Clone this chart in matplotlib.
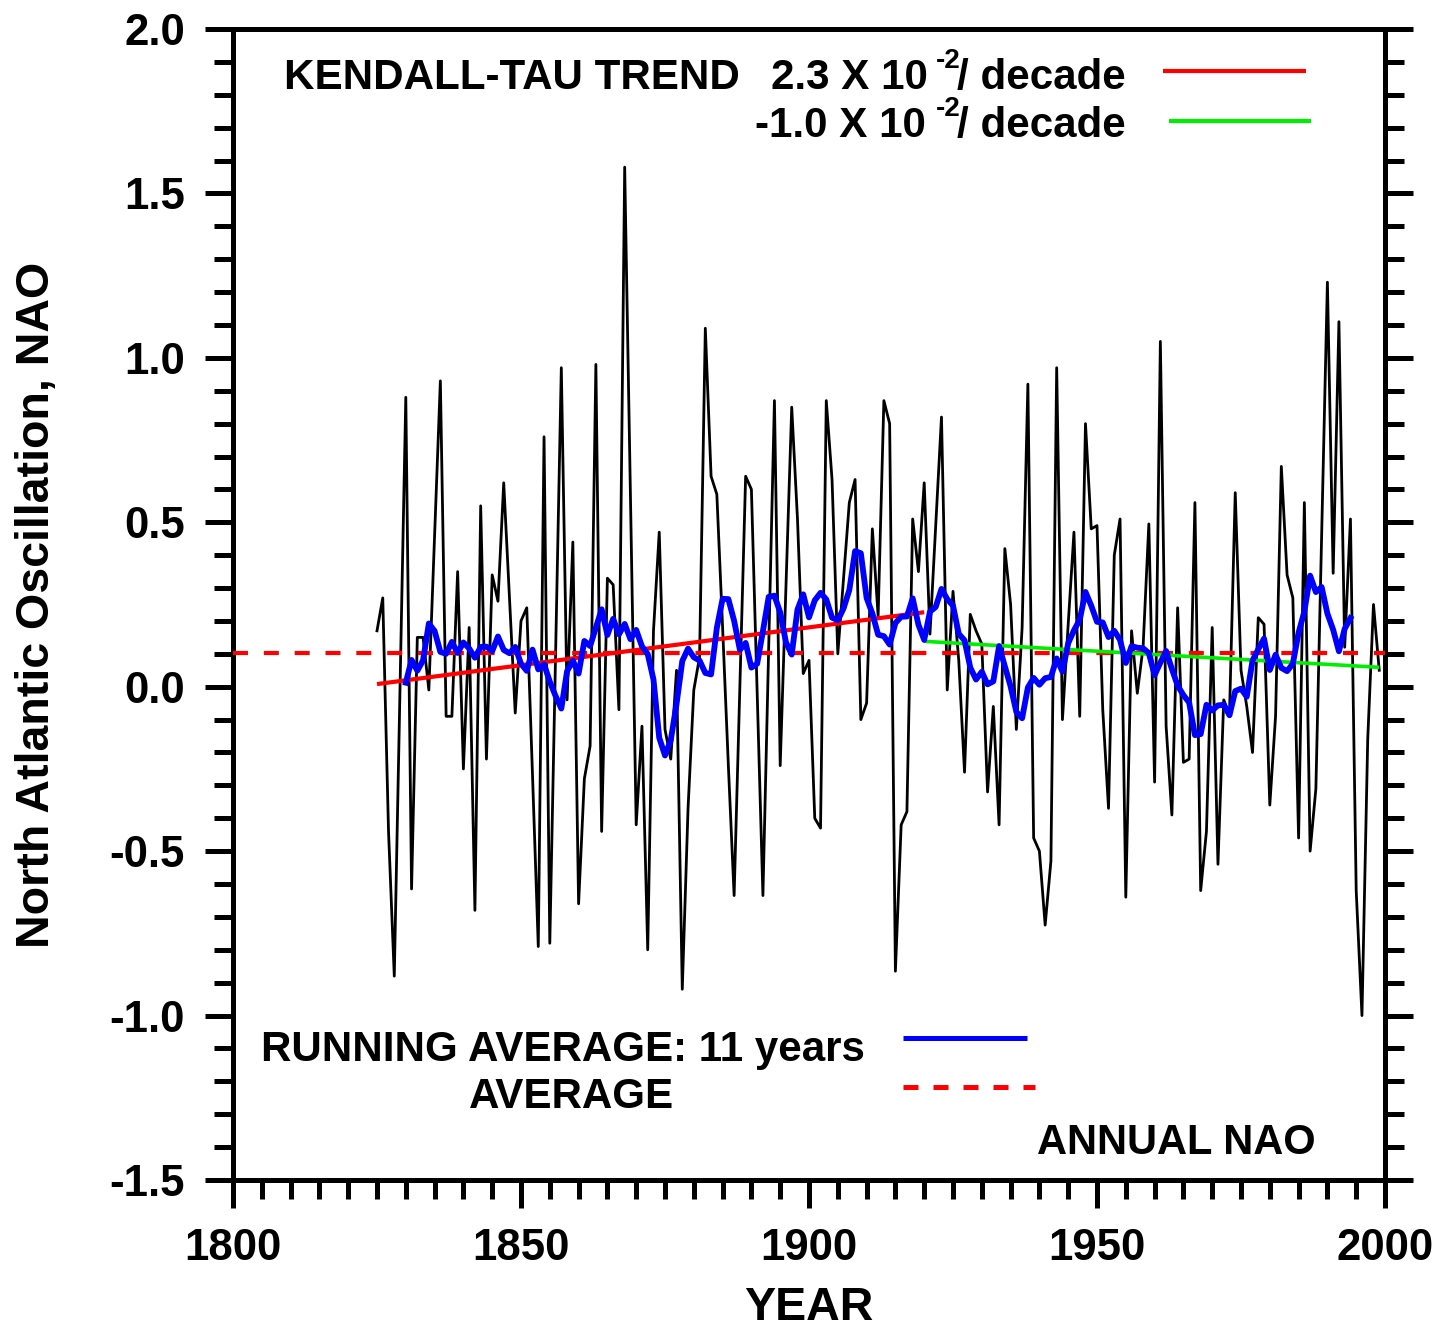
import numpy as np
import matplotlib
matplotlib.use("Agg")
import matplotlib.pyplot as plt
from matplotlib.lines import Line2D
from matplotlib.ticker import MultipleLocator

plt.rcParams["font.family"] = ["Liberation Sans", "DejaVu Sans"]
plt.rcParams["font.weight"] = "bold"

# Annual NAO index, 1825-1999
first_year = 1825
nao = [
    0.17, 0.27, -0.44, -0.88, 0.00, 0.88, -0.615, 0.15, 0.15, -0.01,    # 1825-1834
    0.46, 0.93, -0.09, -0.09, 0.35, -0.25, 0.18, -0.68, 0.55, -0.22,    # 1835-1844
    0.34, 0.26, 0.62, 0.27, -0.08, 0.20, 0.24, -0.27, -0.79, 0.76,      # 1845-1854
    -0.78, 0.10, 0.97, -0.04, 0.44, -0.66, -0.28, -0.18, 0.98, -0.44,   # 1855-1864
    0.33, 0.31, -0.07, 1.58, 0.58, -0.42, -0.12, -0.80, 0.17, 0.47,     # 1865-1874
    -0.13, -0.22, 0.05, -0.92, -0.37, -0.01, 0.09, 1.09, 0.64, 0.585,   # 1875-1884
    0.18, -0.24, -0.635, 0.00, 0.64, 0.60, -0.02, -0.635, 0.12, 0.87,   # 1885-1894
    -0.24, 0.31, 0.85, 0.51, 0.04, 0.08, -0.40, -0.43, 0.87, 0.63,      # 1895-1904
    0.10, 0.33, 0.56, 0.63, -0.10, -0.05, 0.48, 0.215, 0.87, 0.80,      # 1905-1914
    -0.865, -0.42, -0.38, 0.51, 0.35, 0.62, 0.16, 0.49, 0.82, -0.01,    # 1915-1924
    0.29, 0.08, -0.26, 0.22, 0.17, 0.13, -0.32, -0.06, -0.42, 0.42,     # 1925-1934
    0.25, -0.13, 0.18, 0.92, -0.46, -0.50, -0.725, -0.53, 0.97, -0.10,  # 1935-1944
    0.19, 0.47, -0.09, 0.80, 0.48, 0.49, -0.07, -0.37, 0.40, 0.51,      # 1945-1954
    -0.64, 0.17, -0.02, 0.12, 0.495, -0.29, 1.05, -0.12, -0.39, 0.24,   # 1955-1964
    -0.23, -0.22, 0.56, -0.62, -0.44, 0.18, -0.54, -0.04, -0.085, 0.59, # 1965-1974
    0.05, -0.06, -0.20, 0.21, 0.19, -0.36, -0.09, 0.67, 0.34, 0.27,     # 1975-1984
    -0.46, 0.56, -0.50, -0.31, 0.46, 1.23, 0.345, 1.11, 0.12, 0.51,     # 1985-1994
    -0.62, -1.00, -0.16, 0.25, 0.05,                                    # 1995-1999
]
years = np.arange(first_year, first_year + len(nao))

# Long-term average of the index
nao_average = 0.104

# Kendall-tau trends (value at the start year, slope per decade)
trend1_years = [1825, 1920]
trend1_start = 0.008
trend1_slope = 2.3e-2
trend2_years = [1920, 1999]
trend2_start = 0.138
trend2_slope = -1.0e-2

window = 11

y_ticks = [-1.5, -1.0, -0.5, 0.0, 0.5, 1.0, 1.5, 2.0]
y_ticklabels = ["-1.5", "-1.0", "-0.5", "0.0", "0.5", "1.0", "1.5", "2.0"]
x_ticks = [1800, 1850, 1900, 1950, 2000]

W, H = 1441, 1328
fig = plt.figure(figsize=(W / 100, H / 100), dpi=100)
ax = fig.add_axes([233 / W, 1 - 1180 / H, (1385 - 233) / W, (1180 - 29) / H])


def fx(px):
    return px / W


def fy(py):
    return 1 - py / H


nao_arr = np.asarray(nao)
run_mean = np.convolve(nao_arr, np.ones(window) / window, mode="valid")
run_years = years[window // 2: len(years) - window // 2]

t1 = np.array(trend1_years, dtype=float)
v1 = trend1_start + trend1_slope / 10 * (t1 - t1[0])
t2 = np.array(trend2_years, dtype=float)
v2 = trend2_start + trend2_slope / 10 * (t2 - t2[0])

ax.plot(years, nao_arr, color="black", lw=2.0, zorder=3)
ax.axhline(nao_average, color="#ff0000", lw=3.0, dashes=(3.6, 3.8), zorder=4)
ax.plot(t1, v1, color="#ff0000", lw=3.0, zorder=4, solid_capstyle="butt")
ax.plot(t2, v2, color="#00ee00", lw=2.6, zorder=4, solid_capstyle="butt")
ax.plot(run_years, run_mean, color="#0000ff", lw=4.2, zorder=5,
        solid_joinstyle="round")

ax.set_xlim(1800, 2000)
ax.set_ylim(-1.5, 2.0)

for side in ["left", "right", "top", "bottom"]:
    ax.spines[side].set_linewidth(3.6)

ax.set_xticks(x_ticks)
ax.set_xticklabels([str(x) for x in x_ticks])
ax.xaxis.set_minor_locator(MultipleLocator(5))
ax.set_yticks(y_ticks)
ax.set_yticklabels(y_ticklabels)
ax.yaxis.set_minor_locator(MultipleLocator(0.1))

ax.tick_params(axis="both", which="both", direction="out", width=3.6)
ax.tick_params(axis="both", which="major", length=20.5)
ax.tick_params(axis="both", which="minor", length=13.5)
ax.tick_params(axis="y", which="both", left=True, right=True)
ax.tick_params(axis="x", which="both", top=False, bottom=True)
ax.tick_params(axis="x", which="major", labelsize=31.5, pad=14)
ax.tick_params(axis="y", which="major", labelsize=31.5, pad=14)
for lab in ax.get_xticklabels() + ax.get_yticklabels():
    lab.set_fontweight("bold")

ax.set_xlabel("YEAR", fontsize=33.5, fontweight="bold", va="baseline")
ax.xaxis.set_label_coords(0.5, (1180 - 1320) / 1151)
ax.set_ylabel("North Atlantic Oscillation, NAO", fontsize=33.5,
              fontweight="bold", va="center")
ax.yaxis.set_label_coords((37 - 233) / 1152, 0.5)

# Legend block
fs = 30.3
sup = 20
txt = dict(fontsize=fs, fontweight="bold", va="baseline", ha="left")
fig.text(fx(284), fy(89), "KENDALL-TAU TREND", **txt)
fig.text(fx(771), fy(89), "2.3 X 10", **txt)
fig.text(fx(936), fy(68), "-2", fontsize=sup, fontweight="bold",
         va="baseline", ha="left")
fig.text(fx(957), fy(89), "/ decade", **txt)
fig.text(fx(755), fy(137), "-1.0 X 10", **txt)
fig.text(fx(936), fy(116), "-2", fontsize=sup, fontweight="bold",
         va="baseline", ha="left")
fig.text(fx(957), fy(137), "/ decade", **txt)
fig.add_artist(Line2D([fx(1163), fx(1306)], [fy(71), fy(71)],
                      color="#ff0000", lw=3.0, solid_capstyle="butt"))
fig.add_artist(Line2D([fx(1169), fx(1311)], [fy(121), fy(121)],
                      color="#00ee00", lw=3.0, solid_capstyle="butt"))

fig.text(fx(261), fy(1061), "RUNNING AVERAGE: 11 years", **txt)
fig.text(fx(469), fy(1108), "AVERAGE", **txt)
fig.add_artist(Line2D([fx(903), fx(1027)], [fy(1038), fy(1038)],
                      color="#0000ff", lw=3.6, solid_capstyle="butt"))
fig.add_artist(Line2D([fx(903), fx(1035)], [fy(1087), fy(1087)],
                      color="#ff0000", lw=3.6, dashes=(3.0, 3.0),
                      solid_capstyle="butt", dash_capstyle="butt"))
fig.text(fx(1037), fy(1154), "ANNUAL NAO", fontsize=30.0, fontweight="bold",
         va="baseline", ha="left")

fig.savefig("out.png", dpi=100)
